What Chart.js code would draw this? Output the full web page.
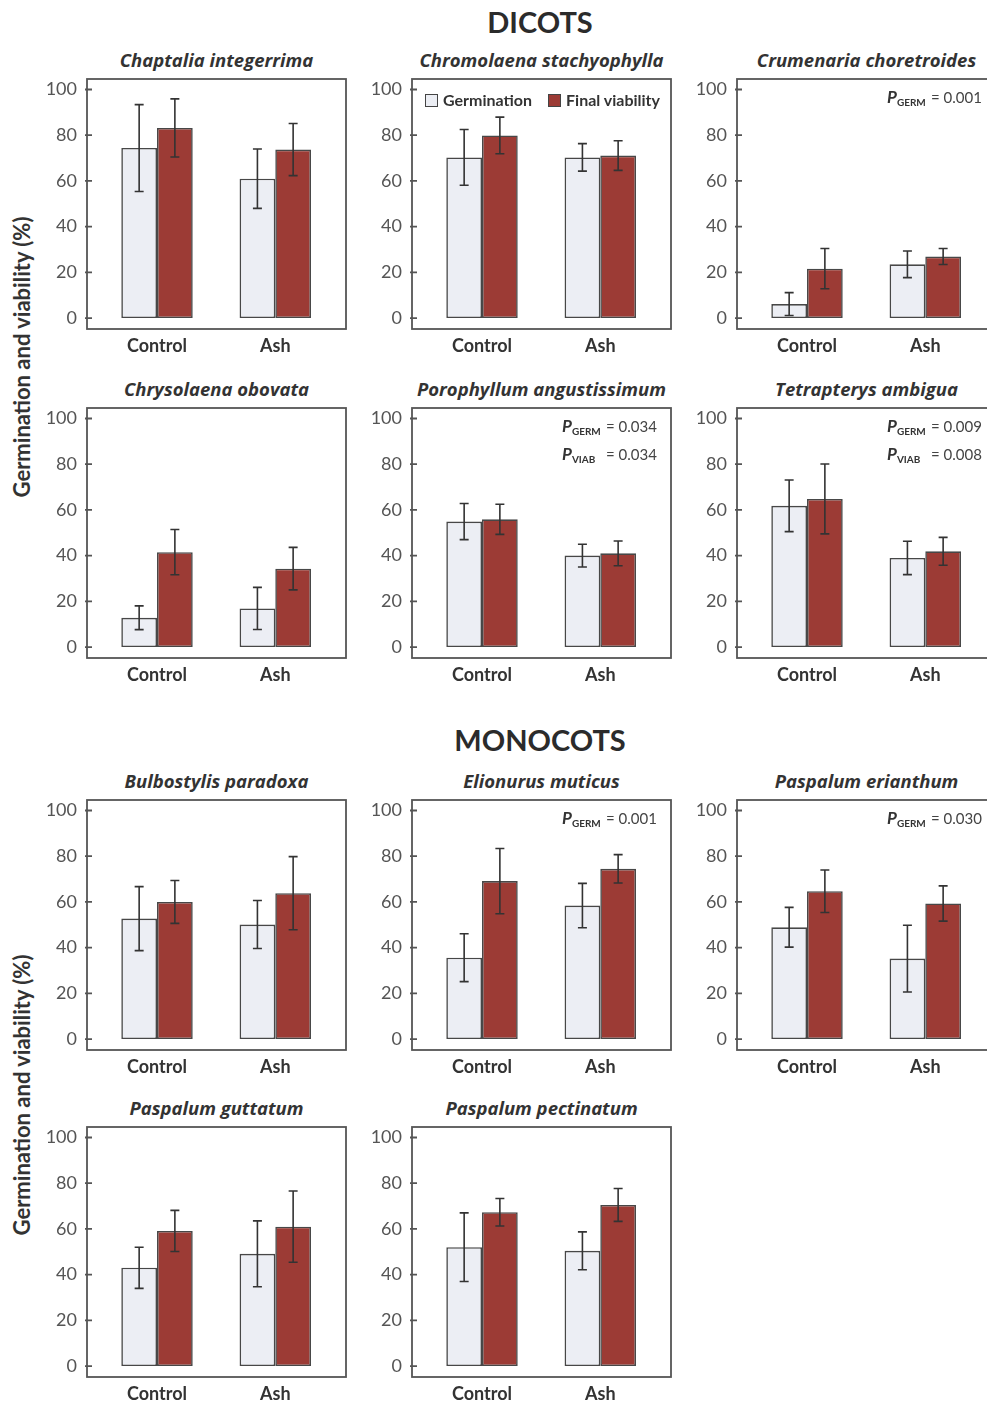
<!DOCTYPE html>
<html>
<head>
<meta charset="utf-8">
<script src="https://cdn.jsdelivr.net/npm/chart.js@4.4.0/dist/chart.umd.min.js"></script>
<style>
  html, body { margin: 0; padding: 0; background: #fff; }
  body { width: 987px; height: 1401px; position: relative; overflow: hidden; font-family: Lato, 'Open Sans', sans-serif; color: #333; }
  canvas { position: absolute; }
  .head { position: absolute; left: 340px; width: 400px; text-align: center; font-weight: 700; font-size: 29px; line-height: 34px; color: #2b2b2b; }
  .ptitle { position: absolute; width: 259px; text-align: center; font-family: 'Open Sans', Lato, sans-serif; font-weight: 700; font-style: italic; font-size: 18.5px; line-height: 22px; white-space: nowrap; color: #333; }
  .ytitle { position: absolute; left: -178px; width: 400px; text-align: center; font-weight: 700; font-size: 22px; line-height: 26px; transform: rotate(-90deg); white-space: nowrap; color: #333; }
  .legend { position: absolute; display: flex; align-items: center; font-weight: 700; font-size: 16px; line-height: 18px; color: #333; }
  .legend .sw { width: 11px; height: 11px; border: 1.5px solid #444; margin-right: 5px; }
  .legend .item { display: flex; align-items: center; margin-right: 16px; }
  .pann { position: absolute; color: #333; white-space: nowrap; }
  .pann .row { display: flex; align-items: baseline; height: 28px; }
  .pann .lab { display: inline-block; width: 44px; }
  .pann i { font-weight: 700; font-size: 17px; }
  .pann sub { font-weight: 700; font-size: 10px; vertical-align: -3px; }
  .pann .val { font-size: 15px; color: #444; }
</style>
</head>
<body>
<script>
// ---- data ----
const groups = ['Control', 'Ash'];
const species = [
  'Chaptalia integerrima', 'Chromolaena stachyophylla', 'Crumenaria choretroides',
  'Chrysolaena obovata', 'Porophyllum angustissimum', 'Tetrapterys ambigua',
  'Bulbostylis paradoxa', 'Elionurus muticus', 'Paspalum erianthum',
  'Paspalum guttatum', 'Paspalum pectinatum'
];
const germMean = [
  [74.4, 61.0], [70.3, 70.3], [6.1, 23.5], [12.8, 16.9], [54.9, 40.0], [61.8, 39.0],
  [52.7, 50.1], [35.6, 58.4], [48.9, 35.2], [43.0, 49.1], [52.0, 50.4]
];
const germErr = [
  [19.0, 13.0], [12.2, 6.0], [5.0, 5.8], [5.2, 9.2], [7.9, 5.0], [11.3, 7.3],
  [14.0, 10.5], [10.5, 9.7], [8.7, 14.6], [9.0, 14.4], [15.0, 8.3]
];
const viabMean = [
  [83.2, 73.7], [79.9, 71.1], [21.6, 26.9], [41.5, 34.3], [55.9, 41.0], [64.8, 41.9],
  [60.0, 63.8], [69.1, 74.5], [64.7, 59.3], [59.1, 61.0], [67.3, 70.5]
];
const viabErr = [
  [12.7, 11.4], [8.0, 6.5], [8.8, 3.5], [9.9, 9.3], [6.6, 5.4], [15.3, 6.1],
  [9.4, 16.0], [14.3, 6.2], [9.3, 7.7], [9.0, 15.6], [6.0, 7.2]
];
const pGerm = ['', '', '0.001', '', '0.034', '0.009', '', '0.001', '0.030', '', ''];
const pViab = ['', '', '', '', '0.034', '0.008', '', '', '', '', ''];
const yTicks = [0, 20, 40, 60, 80, 100];

// ---- layout ----
const colLeft = [87, 412, 737];
const rowTop = [79, 408, 800, 1127];
const panelRow = [0, 0, 0, 1, 1, 1, 2, 2, 2, 3, 3];
const panelCol = [0, 1, 2, 0, 1, 2, 0, 1, 2, 0, 1];
const BOX_W = 259, BOX_H = 250;
const FONT = 'Lato, "Open Sans", sans-serif';
const GERM_FILL = '#eceef4';
const VIAB_FILL = '#9c3b35';
const EDGE = '#474747';

function addEl(cls, html, left, top) {
  const el = document.createElement('div');
  el.className = cls;
  el.innerHTML = html;
  if (left !== null) el.style.left = left + 'px';
  el.style.top = top + 'px';
  document.body.appendChild(el);
  return el;
}

addEl('head', 'DICOTS', null, 5);
addEl('head', 'MONOCOTS', null, 723);
addEl('ytitle', 'Germination and viability (%)', null, 344);
addEl('ytitle', 'Germination and viability (%)', null, 1082);

const panelBox = {
  id: 'panelBox',
  afterDatasetsDraw(chart) {
    const { ctx, chartArea: a, scales: { y } } = chart;
    ctx.save();
    ctx.strokeStyle = '#333';
    ctx.lineWidth = 1.6;
    chart.data.datasets.forEach((ds, d) => {
      chart.getDatasetMeta(d).data.forEach((bar, k) => {
        const v = ds.data[k].y, e = ds.err[k];
        const top = y.getPixelForValue(v + e), bot = y.getPixelForValue(v - e);
        ctx.beginPath();
        ctx.moveTo(bar.x, top); ctx.lineTo(bar.x, bot);
        ctx.moveTo(bar.x - 4.5, top); ctx.lineTo(bar.x + 4.5, top);
        ctx.moveTo(bar.x - 4.5, bot); ctx.lineTo(bar.x + 4.5, bot);
        ctx.stroke();
      });
    });
    ctx.strokeStyle = '#555';
    ctx.lineWidth = 1.8;
    ctx.strokeRect(a.left, a.top, a.right - a.left, a.bottom - a.top);
    ctx.beginPath();
    yTicks.forEach(t => {
      const py = y.getPixelForValue(t);
      ctx.moveTo(a.left - 2, py); ctx.lineTo(a.left + 5, py);
    });
    ctx.stroke();
    ctx.restore();
  }
};

function noPad(s) {
  s.paddingTop = 0; s.paddingBottom = 0; s.paddingLeft = 0; s.paddingRight = 0;
}

function makePanel(i) {
  const bx = colLeft[panelCol[i]], by = rowTop[panelRow[i]];
  const cv = document.createElement('canvas');
  cv.width = 50 + BOX_W + 6;
  cv.height = 4 + BOX_H + 34;
  cv.style.left = (bx - 50) + 'px';
  cv.style.top = (by - 4) + 'px';
  document.body.appendChild(cv);

  const barOpts = { borderColor: EDGE, borderWidth: 1.6, borderSkipped: false, categoryPercentage: 0.604, barPercentage: 1 };
  new Chart(cv, {
    type: 'bar',
    data: {
      datasets: [
        { label: 'Germination', data: germMean[i].map((v, k) => ({ x: k, y: v })), err: germErr[i], backgroundColor: GERM_FILL, ...barOpts },
        { label: 'Final viability', data: viabMean[i].map((v, k) => ({ x: k, y: v })), err: viabErr[i], backgroundColor: VIAB_FILL, ...barOpts }
      ]
    },
    options: {
      responsive: false,
      animation: false,
      devicePixelRatio: 1,
      layout: { padding: { left: 0, top: 4, right: 6, bottom: 0 } },
      plugins: { legend: { display: false }, tooltip: { enabled: false } },
      scales: {
        x: {
          type: 'linear', min: -0.592, max: 1.598, offset: false,
          grid: { display: false, drawTicks: false }, border: { display: false },
          afterBuildTicks: s => { s.ticks = groups.map((g, k) => ({ value: k })); },
          afterFit: s => { s.height = 34; noPad(s); },
          ticks: { callback: v => groups[v], autoSkip: false, maxRotation: 0, padding: 6, color: '#333', font: { family: FONT, size: 18, weight: 'bold' } }
        },
        y: {
          min: -4.8, max: 104.6,
          grid: { display: false, drawTicks: false }, border: { display: false },
          afterBuildTicks: s => { s.ticks = yTicks.map(v => ({ value: v })); },
          afterFit: s => { s.width = 50; noPad(s); },
          ticks: { padding: 10, color: '#555', font: { family: FONT, size: 18 } }
        }
      }
    },
    plugins: [panelBox]
  });

  addEl('ptitle', species[i], bx, by - 30);

  let rows = '';
  if (pGerm[i]) rows += `<div class="row"><span class="lab"><i>P</i><sub>GERM</sub></span><span class="val">= ${pGerm[i]}</span></div>`;
  if (pViab[i]) rows += `<div class="row"><span class="lab"><i>P</i><sub>VIAB</sub></span><span class="val">= ${pViab[i]}</span></div>`;
  if (rows) addEl('pann', rows, bx + 150, by + 7);
}

species.forEach((s, i) => makePanel(i));

addEl('legend',
  `<span class="item"><span class="sw" style="background:${GERM_FILL}"></span>Germination</span>` +
  `<span class="item"><span class="sw" style="background:${VIAB_FILL}"></span>Final viability</span>`,
  colLeft[1] + 13, rowTop[0] + 12);
</script>
</body>
</html>
